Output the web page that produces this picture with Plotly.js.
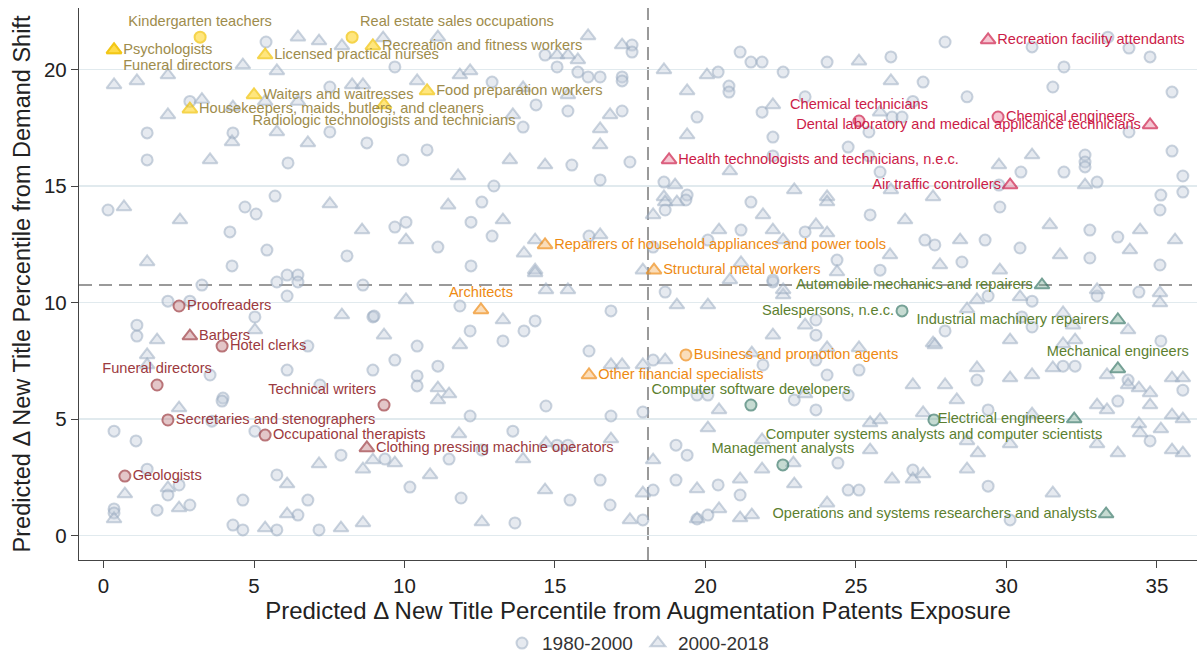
<!DOCTYPE html>
<html><head><meta charset="utf-8">
<script src="https://cdn.plot.ly/plotly-3.0.1.min.js"></script>
<style>html,body{margin:0;padding:0;background:#fff}#chart{width:1203px;height:657px}</style>
</head><body><div id="chart"></div>
<script>
// ---------- background occupations ----------
const circleX = [5.40,7.52,2.87,1.45,4.30,7.52,9.68,14.67,15.07,15.76,16.10,16.50,17.23,17.23,17.56,17.56,12.91,14.37,15.43,17.23,13.94,
20.42,21.15,21.51,21.88,22.58,24.04,26.16,27.96,27.23,20.78,20.78,23.31,21.88,26.89,26.20,26.53,19.72,22.24,24.74,25.43,22.24,25.43,25.80,18.62,19.39,
30.85,33.37,34.07,34.77,31.91,31.54,28.69,35.50,34.07,35.50,32.61,32.61,32.61,30.48,31.91,33.01,29.75,35.86,35.86,35.13,
2.14,2.87,3.27,5.76,6.10,6.46,6.46,6.10,8.62,5.03,8.95,1.11,1.11,6.10,3.54,8.95,7.19,6.79,3.97,
11.84,8.99,14.34,12.18,13.97,13.27,10.42,16.86,16.13,9.68,11.11,10.42,10.42,14.70,12.18,16.86,17.92,13.60,15.43,15.07,9.35,11.48,12.57,
3.94,3.60,0.35,1.08,5.03,7.89,1.45,5.76,2.14,2.51,0.35,0.35,1.78,2.87,4.63,6.79,6.46,4.30,4.63,5.76,7.16,
18.66,22.24,23.67,23.67,18.26,21.91,23.67,25.10,24.04,22.95,23.67,24.74,19.72,20.08,19.02,19.39,24.40,
18.26,19.02,20.42,21.15,24.74,25.10,26.89,17.92,19.72,20.08,
33.01,34.40,29.39,30.85,30.51,30.85,27.96,35.13,29.02,31.88,32.28,34.04,35.86,33.70,29.39,34.77,29.39,30.12,
12.57,9.68,10.05,12.21,11.11,12.91,12.21,16.13,18.66,19.35,18.26,20.08,21.18,23.31,21.51,22.24,24.37,
1.45,5.70,4.70,4.20,5.07,4.27,5.43,8.09,0.15,8.75,6.13,
9.95,10.75,12.97,15.56,17.49,16.50,
29.78,32.77,33.70,35.10,27.62,29.29,30.45,32.77,35.10,28.52,25.47,27.29,25.80,
10.18,11.88,13.67,15.50,16.83,16.50];
const circleY = [21.18,19.25,18.63,17.28,17.28,17.32,20.11,20.62,20.11,19.89,19.68,19.68,19.68,19.51,21.05,20.75,19.46,18.48,18.22,18.22,17.53,
19.89,20.75,20.32,20.32,19.89,20.32,20.54,21.18,19.46,19.29,19.03,18.83,18.17,18.63,17.96,17.96,17.96,17.10,16.67,17.32,16.29,16.29,15.60,15.17,14.61,
20.97,21.39,20.92,20.54,20.11,19.25,18.83,19.03,17.32,16.50,16.33,16.03,15.82,15.60,15.60,15.17,15.04,15.43,14.74,14.61,
10.06,10.06,10.75,10.88,11.18,11.18,10.88,10.28,10.75,9.38,9.38,9.03,8.56,7.10,6.89,7.10,6.46,8.13,5.90,
9.85,9.42,9.21,8.78,8.78,8.35,8.13,9.64,7.92,7.53,7.27,6.85,6.42,5.56,5.13,5.13,5.30,4.48,3.88,3.88,3.28,3.28,3.67,
5.77,4.91,4.48,4.06,4.48,3.45,2.85,2.60,1.74,2.17,1.14,0.97,1.09,1.31,1.52,1.52,0.88,0.45,0.24,0.24,0.24,
10.45,10.88,9.25,8.60,7.53,7.32,7.53,7.10,6.89,5.82,5.39,6.03,6.03,6.03,3.88,3.45,3.11,
1.95,2.38,2.17,1.74,1.95,1.95,2.81,0.67,0.71,0.88,
10.28,10.45,10.28,10.06,9.38,8.95,8.78,8.35,6.67,7.27,7.27,6.67,6.24,5.77,5.39,4.06,2.12,0.67,
14.31,13.24,13.45,13.45,12.38,12.85,11.57,12.85,13.97,14.40,12.38,12.68,13.11,13.03,14.31,10.97,11.82,
16.12,14.57,14.10,13.03,13.80,11.57,12.25,12.00,13.97,16.85,15.99,
16.12,16.55,15.00,15.90,16.03,15.26,
14.10,13.11,12.81,13.97,12.47,12.68,12.34,11.91,11.61,11.74,13.76,12.68,11.39,
2.08,1.61,0.54,1.52,1.31,2.38];

const triangleX = [6.46,7.16,7.92,4.63,5.76,2.14,0.35,1.11,8.26,8.62,3.27,2.14,4.30,5.37,5.76,6.46,
9.29,11.11,16.10,17.23,15.07,15.43,15.76,11.84,12.18,10.42,13.94,15.43,16.83,13.60,16.50,
18.62,20.05,25.10,26.16,19.39,22.24,25.80,19.39,20.81,18.99,22.95,24.04,26.16,18.62,27.56,
30.85,29.75,32.61,7.92,1.78,5.03,1.45,1.45,
10.05,13.27,9.32,11.84,11.11,11.11,11.48,16.86,17.23,17.92,11.81,16.86,14.70,9.68,13.94,14.34,14.70,15.43,17.92,
2.51,7.16,8.62,8.95,6.10,2.14,0.71,0.35,2.51,6.10,5.37,7.89,8.62,
19.05,20.08,22.58,23.31,22.24,27.56,18.66,21.54,24.04,25.10,26.89,20.45,23.31,27.23,20.08,25.47,25.80,21.88,25.47,22.92,
18.26,21.88,19.72,21.15,22.95,24.04,26.20,26.89,27.23,17.92,19.72,20.45,21.15,21.54,
33.01,35.10,35.10,29.02,30.45,28.69,31.88,32.21,34.04,27.62,30.12,31.88,32.28,29.02,30.12,30.85,31.54,33.34,34.04,34.40,34.77,34.77,35.50,35.86,
27.96,28.35,33.01,33.34,30.85,34.40,35.13,35.50,35.86,34.44,33.01,30.12,28.69,29.05,33.70,35.50,35.86,28.69,31.54,
11.45,10.05,13.27,14.34,13.97,14.34,16.50,18.26,18.66,19.05,20.45,21.91,22.24,23.67,24.04,24.04,21.18,20.81,22.58,24.37,22.58,
4.27,3.54,6.79,0.68,2.54,7.52,1.45,8.59,
11.78,13.50,14.67,16.50,
31.44,34.44,28.46,31.78,34.10,29.78,35.60,26.63,26.13,27.79,
10.85,12.57,14.67,17.49];
const triangleY = [21.39,21.22,21.01,20.19,19.94,19.76,19.34,19.51,19.34,19.34,18.71,18.05,18.39,18.63,17.32,18.63,
21.35,21.39,21.44,21.05,20.62,20.62,20.41,19.76,19.94,19.51,19.21,18.91,18.05,18.05,17.45,
19.98,19.76,20.36,19.51,19.08,18.48,18.17,17.19,15.64,15.04,14.83,14.53,14.83,14.53,14.53,
16.33,15.90,15.04,9.46,8.39,8.82,7.75,7.32,
10.11,9.25,8.60,8.18,6.33,5.82,6.07,7.32,7.32,7.32,4.36,4.14,3.97,3.11,3.28,11.39,10.54,10.54,11.39,
5.47,3.07,2.85,3.24,2.21,2.04,1.78,0.71,1.18,0.92,0.32,0.32,0.54,
9.89,9.89,10.32,9.03,8.60,8.26,7.53,7.83,8.05,8.05,6.46,5.39,6.07,5.26,4.61,4.83,4.96,4.10,3.67,3.11,
3.24,2.85,2.00,2.42,2.21,1.39,2.42,2.42,2.64,1.82,0.71,1.14,0.75,0.88,
10.54,10.41,9.98,10.11,10.24,9.72,9.55,9.03,8.82,8.18,8.39,8.22,8.39,7.19,6.76,6.89,7.19,6.89,6.46,6.33,6.12,5.60,6.76,6.76,
6.46,5.82,5.60,5.39,5.21,4.79,4.57,5.17,5.00,4.40,3.93,3.93,4.06,3.54,3.54,3.67,3.54,2.85,1.82,
14.18,12.68,13.54,12.68,12.12,11.27,12.90,13.76,14.31,14.31,13.11,13.76,13.11,13.33,12.98,14.31,11.70,10.97,10.54,11.31,12.68,
16.89,16.12,16.85,14.10,13.54,14.23,11.74,13.11,
15.43,16.12,15.90,16.76,
13.33,13.11,12.68,12.04,12.25,11.39,12.68,13.54,12.04,11.61,
2.60,0.58,1.95,0.67];

// ---------- highlighted occupations ----------
const yellowNames = ['Kindergarten teachers','Real estate sales occupations','Psychologists','Funeral directors','Licensed practical nurses','Recreation and fitness workers','Waiters and waitresses','Food preparation workers','Housekeepers, maids, butlers, and cleaners','Radiologic technologists and technicians'];
const yellowX = [3.21,8.26,0.35,0.35,5.37,8.95,5.00,10.75,2.87,9.32];
const yellowY = [21.39,21.39,20.84,20.84,20.62,21.01,18.91,19.08,18.30,18.48];
const yellowPeriod = ['1980-2000','1980-2000','2000-2018','2000-2018','2000-2018','2000-2018','2000-2018','2000-2018','2000-2018','2000-2018'];

const redNames = ['Recreation facility attendants','Chemical technicians','Chemical engineers','Dental laboratory and medical applicance technicians','Health technologists and technicians, n.e.c.','Air traffic controllers'];
const redX = [29.39,25.10,29.72,34.77,18.79,30.12];
const redY = [21.27,17.79,17.96,17.62,16.12,15.04];
const redPeriod = ['2000-2018','1980-2000','1980-2000','2000-2018','2000-2018','2000-2018'];

const orangeNames = ['Repairers of household appliances and power tools','Structural metal workers','Architects','Business and promotion agents','Other financial specialists'];
const orangeX = [14.67,18.29,12.54,19.35,16.13];
const orangeY = [12.47,11.39,9.68,7.75,6.89];
const orangePeriod = ['2000-2018','2000-2018','2000-2018','1980-2000','2000-2018'];

const maroonNames = ['Proofreaders','Barbers','Hotel clerks','Funeral directors','Technical writers','Secretaries and stenographers','Occupational therapists','Clothing pressing machine operators','Geologists'];
const maroonX = [2.51,2.87,3.94,1.78,9.32,2.14,5.37,8.75,0.71];
const maroonY = [9.85,8.56,8.13,6.46,5.60,4.96,4.31,3.76,2.55];
const maroonPeriod = ['1980-2000','2000-2018','1980-2000','1980-2000','1980-2000','1980-2000','1980-2000','2000-2018','1980-2000'];

const greenNames = ['Automobile mechanics and repairers','Salespersons, n.e.c.','Industrial machinery repairers','Mechanical engineers','Computer software developers','Computer systems analysts and computer scientists','Electrical engineers','Management analysts','Operations and systems researchers and analysts'];
const greenX = [31.18,26.53,33.70,33.70,21.51,27.59,32.25,22.57,33.31];
const greenY = [10.75,9.64,9.25,7.15,5.60,4.96,5.00,3.03,0.92];
const greenPeriod = ['2000-2018','1980-2000','2000-2018','2000-2018','1980-2000','1980-2000','2000-2018','1980-2000','2000-2018'];

const xMean = 18.09;   // vertical reference line
const yMean = 10.75;   // horizontal reference line
const xTicks = [0,5,10,15,20,25,30,35];
const yTicks = [0,5,10,15,20];

// ---------- label placement (style) ----------
const yellowPos = ['top center','top right','middle right','bottom right','middle right','middle right','middle right','middle right','middle right','bottom center'];
const redPos = ['middle right','top center','middle right','middle left','middle right','middle left'];
const orangePos = ['middle right','middle right','top center','middle right','middle right'];
const maroonPos = ['middle right','middle right','middle right','top center','top left','middle right','middle right','middle right','middle right'];
const greenPos = ['middle left','middle left','middle left','top center','top center','bottom center','middle left','top center','middle left'];

const FONT = 'Liberation Sans, Arial, sans-serif';
const sym = p => p.map(v => v === '1980-2000' ? 'circle' : 'triangle-up');
const sz = p => p.map(v => v === '1980-2000' ? 11 : 13);

const grayFill = 'rgba(196,206,220,0.42)';
const grayLine = 'rgba(150,167,190,0.50)';

function hl(names, xs, ys, period, pos, fill, line, txt) {
  return {
    type: 'scatter', mode: 'markers+text', x: xs, y: ys, text: names,
    textposition: pos, textfont: {family: FONT, size: 14.6, color: txt},
    marker: {symbol: sym(period), size: sz(period), color: fill, line: {color: line, width: 2}},
    showlegend: false, hoverinfo: 'text', cliponaxis: false
  };
}

const traces = [
  {type: 'scatter', mode: 'markers', name: '1980-2000', x: circleX, y: circleY,
   marker: {symbol: 'circle', size: 11, color: grayFill, line: {color: grayLine, width: 2}}},
  {type: 'scatter', mode: 'markers', name: '2000-2018', x: triangleX, y: triangleY,
   marker: {symbol: 'triangle-up', size: 13, color: grayFill, line: {color: grayLine, width: 2}}},
  hl(yellowNames, yellowX, yellowY, yellowPeriod, yellowPos, 'rgba(255,214,40,0.85)', '#f2c200', '#9e8c4c'),
  hl(redNames, redX, redY, redPeriod, redPos, 'rgba(232,120,150,0.6)', '#cc1c48', '#cc1c48'),
  hl(orangeNames, orangeX, orangeY, orangePeriod, orangePos, 'rgba(242,150,40,0.45)', '#ee8a12', '#ee8a12'),
  hl(maroonNames, maroonX, maroonY, maroonPeriod, maroonPos, 'rgba(190,120,125,0.6)', '#9c3a40', '#9c3a40'),
  hl(greenNames, greenX, greenY, greenPeriod, greenPos, 'rgba(120,170,150,0.6)', '#3c7a6a', '#5c7f30')
];

const layout = {
  width: 1203, height: 657,
  margin: {l: 79, r: 6, t: 8, b: 97, autoexpand: false},
  paper_bgcolor: '#fff', plot_bgcolor: '#fff',
  font: {family: FONT, color: '#222'},
  showlegend: true,
  legend: {orientation: 'h', x: 0.5, xanchor: 'center', xref: 'paper',
           y: 0.021, yanchor: 'middle', yref: 'container',
           font: {family: FONT, size: 19, color: '#333'}, itemwidth: 30, tracegroupgap: 0},
  xaxis: {
    range: [-0.814, 36.33], tickvals: xTicks, ticktext: xTicks.map(String), automargin: false,
    showgrid: false, zeroline: false, showline: true, linecolor: '#444', linewidth: 1.2,
    ticks: 'outside', ticklen: 7, tickcolor: '#444', tickfont: {family: FONT, size: 20.5, color: '#222'},
    title: {text: 'Predicted Δ New Title Percentile from Augmentation Patents Exposure', font: {family: FONT, size: 24, color: '#222'}, standoff: 4}
  },
  yaxis: {
    range: [-1.05, 22.64], tickvals: yTicks, ticktext: yTicks.map(String), automargin: false,
    showgrid: true, gridcolor: '#e1eaee', gridwidth: 1.5, zeroline: false,
    showline: true, linecolor: '#444', linewidth: 1.2,
    ticks: 'outside', ticklen: 7, tickcolor: '#444', tickfont: {family: FONT, size: 20.5, color: '#222'},
    title: {text: 'Predicted Δ New Title Percentile from Demand Shift', font: {family: FONT, size: 23.5, color: '#222'}, standoff: 6}
  },
  shapes: [
    {type: 'line', xref: 'paper', x0: 0, x1: 1, yref: 'y', y0: yMean, y1: yMean, layer: 'below',
     line: {color: '#9a9a9a', width: 2, dash: '13px,7px'}},
    {type: 'line', xref: 'x', x0: xMean, x1: xMean, yref: 'paper', y0: 0, y1: 1, layer: 'below',
     line: {color: '#9a9a9a', width: 2, dash: '13px,7px'}}
  ]
};

Plotly.newPlot('chart', traces, layout, {displayModeBar: false, staticPlot: true});
</script>
</body></html>
